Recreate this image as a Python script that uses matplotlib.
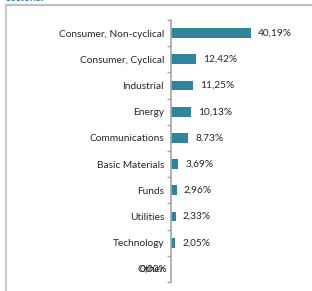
import matplotlib
matplotlib.use("Agg")
from matplotlib import pyplot as plt
from matplotlib.lines import Line2D

sectors = ["Consumer, Non-cyclical", "Consumer, Cyclical", "Industrial", "Energy",
           "Communications", "Basic Materials", "Funds", "Utilities", "Technology", "Other"]
weights = [40.19, 12.42, 11.25, 10.13, 8.73, 3.69, 2.96, 2.33, 2.05, 0.00]
value_labels = ["40,19%", "12,42%", "11,25%", "10,13%", "8,73%", "3,69%",
                "2,96%", "2,33%", "2,05%", "0,00%"]

bar_color = "#31849B"
frame_color = "#BFBFBF"

plt.rcParams['font.family'] = ['Lato', 'DejaVu Sans']

fig = plt.figure(figsize=(3.12, 2.91), dpi=100)
ax = fig.add_axes([171/312, 9/291, 141/312, 262/291])

n = len(sectors)
ypos = list(range(n))
ax.barh(ypos, weights, height=0.38, color=bar_color)
ax.set_ylim(n - 0.5, -0.5)
ax.set_xlim(0, 70.8)

for y, w, lab in zip(ypos, weights, value_labels):
    if w > 0:
        ax.text(w + 3.5, y, lab, va='center', ha='left', fontsize=7.3, color='#262626')
    else:
        # zero label lands on top of the category name, as in the original
        ax.text(-1.8, y, lab, va='center', ha='right', fontsize=7.3, color='#262626')

ax.set_yticks(ypos)
ax.set_yticklabels(sectors, fontsize=7.3, color='#262626')
ax.tick_params(axis='y', length=0, pad=5)
ax.set_yticks([i - 0.5 for i in range(n + 1)], minor=True)
ax.tick_params(axis='y', which='minor', length=3, color='#A6A6A6', width=1)
ax.set_xticks([])
for s in ['top', 'right', 'bottom']:
    ax.spines[s].set_visible(False)
ax.spines['left'].set_color('#A6A6A6')
ax.spines['left'].set_linewidth(1.2)

# outer frame of the report box
fig.add_artist(Line2D([5.5/312, 1], [1 - 4.5/291, 1 - 4.5/291], color=frame_color, lw=1.6))
fig.add_artist(Line2D([5.5/312, 5.5/312], [0, 1 - 4.5/291], color=frame_color, lw=1.2))
fig.text(6/312, 1 - 0.6/291, "Sectorial", fontsize=7, fontweight='bold',
         color='#31849B', va='baseline', ha='left')

fig.savefig("out.png", dpi=100)
